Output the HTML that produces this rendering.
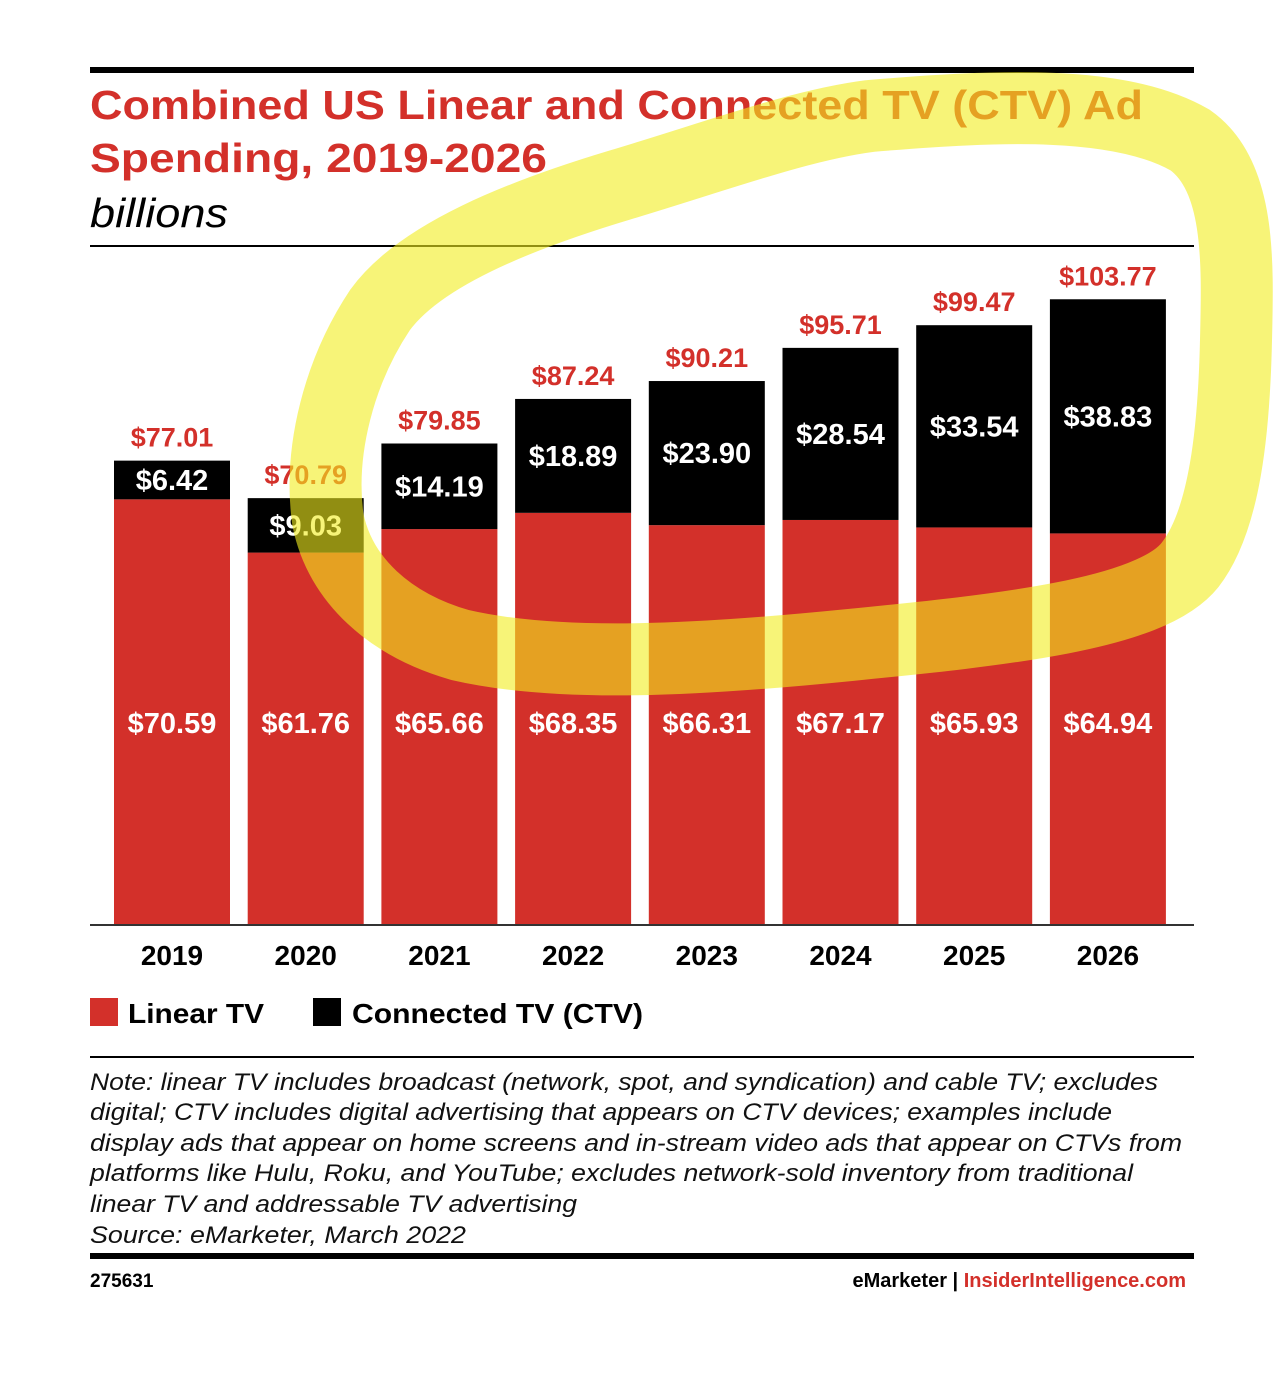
<!DOCTYPE html>
<html><head><meta charset="utf-8"><style>
body{margin:0;background:#fff;width:1284px;height:1397px;overflow:hidden;font-family:"Liberation Sans",sans-serif}
svg{position:absolute;left:0;top:0}
</style></head><body>
<svg width="1284" height="1397">
<rect x="90" y="67" width="1104" height="6" fill="#000"/>
<text x="90" y="119" font-size="41" font-weight="bold" fill="#d3302a" textLength="1053" lengthAdjust="spacingAndGlyphs">Combined US Linear and Connected TV (CTV) Ad</text>
<text x="90" y="172" font-size="41" font-weight="bold" fill="#d3302a" textLength="457" lengthAdjust="spacingAndGlyphs">Spending, 2019-2026</text>
<text x="90" y="227" font-size="41" font-style="italic" fill="#000" textLength="138" lengthAdjust="spacingAndGlyphs">billions</text>
<rect x="90" y="245" width="1104" height="2" fill="#000"/>
<g id="bars"></g>
<rect x="90" y="924" width="1104" height="2" fill="#333"/>
<rect x="90" y="998" width="28" height="28" fill="#d3302a"/>
<text x="128" y="1023" font-size="28" font-weight="bold" textLength="136" lengthAdjust="spacingAndGlyphs">Linear TV</text>
<rect x="313" y="998" width="28" height="28" fill="#000"/>
<text x="352" y="1023" font-size="28" font-weight="bold" textLength="291" lengthAdjust="spacingAndGlyphs">Connected TV (CTV)</text>
<rect x="90" y="1056" width="1104" height="2" fill="#000"/>
<g font-size="24" font-style="italic" fill="#111">
<text x="90" y="1090" textLength="1068" lengthAdjust="spacingAndGlyphs">Note: linear TV includes broadcast (network, spot, and syndication) and cable TV; excludes</text>
<text x="90" y="1120" textLength="1022" lengthAdjust="spacingAndGlyphs">digital; CTV includes digital advertising that appears on CTV devices; examples include</text>
<text x="90" y="1151" textLength="1092" lengthAdjust="spacingAndGlyphs">display ads that appear on home screens and in-stream video ads that appear on CTVs from</text>
<text x="90" y="1181" textLength="1043" lengthAdjust="spacingAndGlyphs">platforms like Hulu, Roku, and YouTube; excludes network-sold inventory from traditional</text>
<text x="90" y="1212" textLength="487" lengthAdjust="spacingAndGlyphs">linear TV and addressable TV advertising</text>
<text x="90" y="1243" textLength="376" lengthAdjust="spacingAndGlyphs">Source: eMarketer, March 2022</text>
</g>
<rect x="90" y="1253" width="1104" height="6" fill="#000"/>
<text x="90" y="1287" font-size="19" font-weight="bold">275631</text>
<text x="1186" y="1287" font-size="20" font-weight="bold" text-anchor="end"><tspan fill="#000">eMarketer | </tspan><tspan fill="#d3302a"> InsiderIntelligence.com</tspan></text>
<path d="M870,116 C1000,105 1120,100 1190,140 C1240,175 1238,260 1236,340 C1234,430 1225,520 1190,565 C1150,615 1000,630 850,645 C700,660 560,668 460,645 C390,625 340,580 328,520 C318,450 340,370 380,310 C420,255 520,215 620,185 C720,155 800,125 870,116" fill="none" stroke="#f2ec1e" stroke-opacity="0.6" stroke-width="72" stroke-linecap="round"/>
</svg>
<script>
const years=["2019","2020","2021","2022","2023","2024","2025","2026"];
const linear=[70.59,61.76,65.66,68.35,66.31,67.17,65.93,64.94];
const ctv=[6.42,9.03,14.19,18.89,23.90,28.54,33.54,38.83];
const totals=[77.01,70.79,79.85,87.24,90.21,95.71,99.47,103.77];
const NS="http://www.w3.org/2000/svg";
const g=document.getElementById('bars');
const base=925, scale=6.03, x0=114, step=133.7, bw=116;
const y=v=>base-v*scale;
function mk(tag,attrs,txt){const e=document.createElementNS(NS,tag);for(const k in attrs)e.setAttribute(k,attrs[k]);if(txt!=null)e.textContent=txt;g.appendChild(e);return e;}
years.forEach((yr,i)=>{
 const x=x0+i*step, cx=x+bw/2;
 const lt=y(linear[i]), tt=y(linear[i]+ctv[i]);
 let e=mk('rect',{x:x,y:lt,width:bw,height:base-lt,fill:'#d3302a'});
 
 
 e=mk('rect',{x:x,y:tt,width:bw,height:lt-tt,fill:'#000'});
 
 
 e=mk('text',{x:cx,y:733,'font-size':29,'font-weight':'bold',fill:'#fff','text-anchor':'middle'},'$'+linear[i].toFixed(2));
 
 
 e=mk('text',{x:cx,y:(lt+tt)/2+10,'font-size':29,'font-weight':'bold',fill:'#fff','text-anchor':'middle'},'$'+ctv[i].toFixed(2));
 
 
 e=mk('text',{x:cx,y:y(totals[i])-14,'font-size':27,'font-weight':'bold',fill:'#d3302a','text-anchor':'middle'},'$'+totals[i].toFixed(2));
 
 
 e=mk('text',{x:cx,y:965,'font-size':28,'font-weight':'bold',fill:'#000','text-anchor':'middle'},yr);
 
 
});
</script>
</body></html>
